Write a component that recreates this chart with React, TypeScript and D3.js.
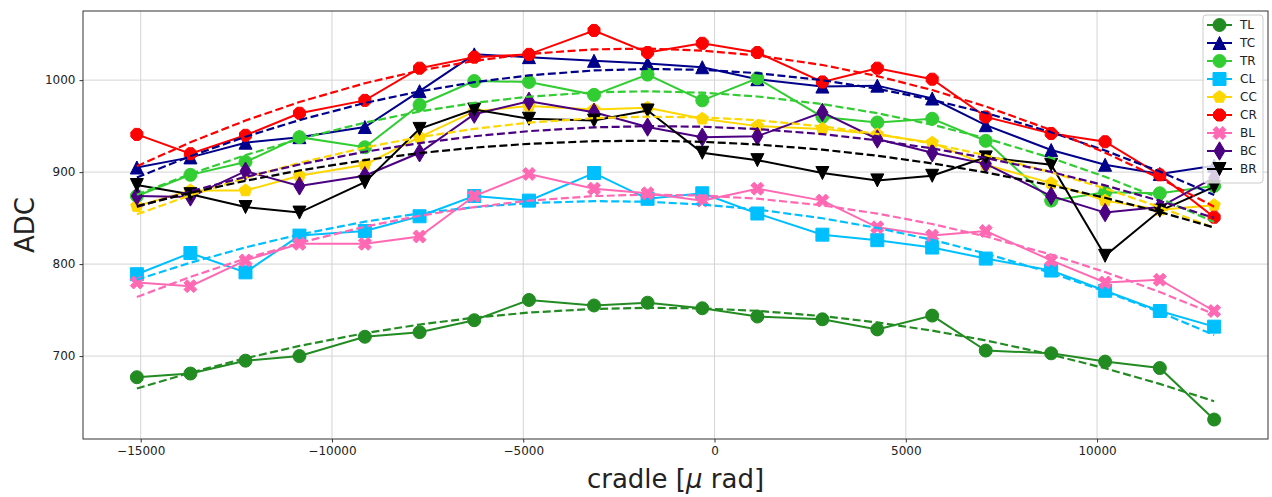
import React, { useRef, useEffect } from "react";
import * as d3 from "d3";

// cradle positions [µrad]
const cradle = [
  -15100, -13700, -12260, -10850, -9140, -7710, -6280, -4850, -3150, -1750,
  -320, 1120, 2820, 4255, 5690, 7090, 8800, 10210, 11640, 13060,
];

// ADC per position
const TL = [677, 681, 695, 700, 721, 726, 739, 761, 755, 758, 752, 743, 740, 729, 744, 706, 703, 694, 687, 631];
const TC = [905, 916, 932, 938, 949, 988, 1028, 1025, 1021, 1018, 1014, 1001, 993, 994, 980, 951, 924, 908, 898, 907];
const TR = [874, 897, 911, 938, 927, 973, 999, 998, 984, 1006, 978, 1002, 960, 954, 958, 934, 869, 878, 877, 885];
const CL = [789, 812, 791, 831, 836, 852, 874, 869, 899, 871, 877, 855, 832, 826, 818, 806, 793, 771, 749, 732];
const CC = [863, 880, 880, 896, 908, 938, 966, 972, 968, 970, 958, 950, 947, 941, 932, 908, 888, 869, 859, 864];
const CR = [941, 920, 940, 964, 978, 1013, 1025, 1028, 1054, 1030, 1040, 1030, 998, 1013, 1001, 960, 942, 933, 897, 851];
const BL = [780, 776, 804, 822, 822, 830, 874, 898, 882, 877, 869, 882, 869, 840, 831, 836, 804, 780, 783, 749];
const BC = [874, 873, 901, 885, 896, 921, 963, 977, 965, 949, 938, 939, 965, 936, 921, 909, 874, 856, 862, 894];
const BR = [886, 876, 862, 856, 889, 947, 968, 958, 956, 967, 921, 913, 899, 891, 896, 916, 908, 809, 858, 884];

const seriesNames = ["TL", "TC", "TR", "CL", "CC", "CR", "BL", "BC", "BR"];
const seriesValues = [TL, TC, TR, CL, CC, CR, BL, BC, BR];
const seriesColors = ["#228b22", "#00008b", "#32cd32", "#00bfff", "#ffd700", "#ff0000", "#ff69b4", "#4b0082", "#000000"];
const seriesMarkers = ["o", "^", "o", "s", "p", "8", "X", "d", "v"];

const xTicks = [-15000, -10000, -5000, 0, 5000, 10000];
const yTicks = [700, 800, 900, 1000];

const width = 1272;
const height = 497;
const margin = { top: 11, right: 4, bottom: 58, left: 83 };
const ms = 13;
const font = "'DejaVu Sans', sans-serif";

// matplotlib-like marker outlines, unit size
function poly(pts: number[][], s: number) {
  return "M" + pts.map((p) => `${p[0] * s},${p[1] * s}`).join("L") + "Z";
}
function regular(n: number, rot: number) {
  return d3.range(n).map((i) => {
    const a = rot + (i * 2 * Math.PI) / n;
    return [0.5 * Math.sin(a), -0.5 * Math.cos(a)];
  });
}
function markerPath(m: string, s: number) {
  switch (m) {
    case "o": {
      const p = d3.path();
      p.arc(0, 0, s / 2, 0, 2 * Math.PI);
      p.closePath();
      return p.toString();
    }
    case "^":
      return poly([[0, -0.5], [-0.5, 0.5], [0.5, 0.5]], s);
    case "v":
      return poly([[0, 0.5], [-0.5, -0.5], [0.5, -0.5]], s);
    case "s":
      return poly([[-0.5, -0.5], [0.5, -0.5], [0.5, 0.5], [-0.5, 0.5]], s);
    case "p":
      return poly(regular(5, 0), s);
    case "8":
      return poly(regular(8, Math.PI / 8), s);
    case "X":
      return poly(
        [[-0.25, -0.5], [0, -0.25], [0.25, -0.5], [0.5, -0.25], [0.25, 0], [0.5, 0.25],
         [0.25, 0.5], [0, 0.25], [-0.25, 0.5], [-0.5, 0.25], [-0.25, 0], [-0.5, -0.25]],
        s
      );
    case "d":
      return poly([[0, -0.707], [0.424, 0], [0, 0.707], [-0.424, 0]], s);
    default:
      return "";
  }
}

// least squares 2nd order polynomial
function quadFit(xs: number[], ys: number[]) {
  const xm = d3.mean(xs) as number;
  const sc = 10000;
  const s = [0, 0, 0, 0, 0];
  const t = [0, 0, 0];
  xs.forEach((x, i) => {
    const u = (x - xm) / sc;
    let p = 1;
    for (let k = 0; k < 5; k++) {
      s[k] += p;
      if (k < 3) t[k] += p * ys[i];
      p *= u;
    }
  });
  const A = [
    [s[0], s[1], s[2]],
    [s[1], s[2], s[3]],
    [s[2], s[3], s[4]],
  ];
  const det = (M: number[][]) =>
    M[0][0] * (M[1][1] * M[2][2] - M[1][2] * M[2][1]) -
    M[0][1] * (M[1][0] * M[2][2] - M[1][2] * M[2][0]) +
    M[0][2] * (M[1][0] * M[2][1] - M[1][1] * M[2][0]);
  const D = det(A);
  const coef = [0, 1, 2].map((c) => det(A.map((row, r) => row.map((v, j) => (j === c ? t[r] : v)))) / D);
  return (x: number) => {
    const u = (x - xm) / sc;
    return coef[0] + coef[1] * u + coef[2] * u * u;
  };
}

function App() {
  const svgRef = useRef<SVGSVGElement>(null);

  useEffect(() => {
    const svg = d3.select(svgRef.current);
    svg.selectAll("*").remove();

    const x0 = margin.left;
    const x1 = width - margin.right;
    const y0 = margin.top;
    const y1 = height - margin.bottom;

    // autoscale with 5% margins, like matplotlib
    const [xa, xb] = d3.extent(cradle) as [number, number];
    const all = seriesValues.flat();
    const [ya, yb] = d3.extent(all) as [number, number];
    const xs = d3.scaleLinear().domain([xa - 0.05 * (xb - xa), xb + 0.05 * (xb - xa)]).range([x0, x1]);
    const ys = d3.scaleLinear().domain([ya - 0.05 * (yb - ya), yb + 0.05 * (yb - ya)]).range([y1, y0]);

    const fmt = d3.format("d");

    // grid
    const grid = svg.append("g").attr("stroke", "#d4d4d4").attr("stroke-width", 1);
    xTicks.forEach((t) => {
      grid.append("line").attr("x1", xs(t)).attr("x2", xs(t)).attr("y1", y0).attr("y2", y1);
    });
    yTicks.forEach((t) => {
      grid.append("line").attr("x1", x0).attr("x2", x1).attr("y1", ys(t)).attr("y2", ys(t));
    });

    // axes
    const xAxis = svg
      .append("g")
      .attr("transform", `translate(0,${y1})`)
      .call(d3.axisBottom(xs).tickValues(xTicks).tickFormat((d) => fmt(d as number)).tickSize(3.5).tickPadding(4));
    const yAxis = svg
      .append("g")
      .attr("transform", `translate(${x0},0)`)
      .call(d3.axisLeft(ys).tickValues(yTicks).tickFormat((d) => fmt(d as number)).tickSize(3.5).tickPadding(4));
    [xAxis, yAxis].forEach((g) => {
      g.select(".domain").remove();
      g.selectAll(".tick line").attr("stroke", "#333");
      g.selectAll(".tick text").attr("font-family", font).attr("font-size", 12).attr("fill", "#222");
    });

    // data lines + markers
    const line = d3
      .line<number>()
      .x((_, i) => xs(cradle[i]))
      .y((d) => ys(d));

    seriesValues.forEach((vals, si) => {
      const color = seriesColors[si];
      svg
        .append("path")
        .datum(vals)
        .attr("d", line)
        .attr("fill", "none")
        .attr("stroke", color)
        .attr("stroke-width", 2);
      svg
        .append("g")
        .selectAll("path")
        .data(vals)
        .enter()
        .append("path")
        .attr("transform", (d, i) => `translate(${xs(cradle[i])},${ys(d)})`)
        .attr("d", markerPath(seriesMarkers[si], ms))
        .attr("fill", color)
        .attr("stroke", color)
        .attr("stroke-width", 1);
    });

    // quadratic fits
    seriesValues.forEach((vals, si) => {
      const f = quadFit(cradle, vals);
      svg
        .append("path")
        .datum(cradle.map(f))
        .attr("d", line)
        .attr("fill", "none")
        .attr("stroke", seriesColors[si])
        .attr("stroke-width", 2.2)
        .attr("stroke-dasharray", "8,3.5");
    });

    // frame
    svg
      .append("rect")
      .attr("x", x0)
      .attr("y", y0)
      .attr("width", x1 - x0)
      .attr("height", y1 - y0)
      .attr("fill", "none")
      .attr("stroke", "#333")
      .attr("stroke-width", 1);

    // legend
    const lx = 1203;
    const ly = 15;
    const rowH = 18;
    const lg = svg.append("g");
    lg.append("rect")
      .attr("x", lx)
      .attr("y", ly)
      .attr("width", x1 - 5 - lx)
      .attr("height", rowH * seriesNames.length + 6)
      .attr("rx", 3)
      .attr("fill", "white")
      .attr("fill-opacity", 0.8)
      .attr("stroke", "#cccccc");
    seriesNames.forEach((name, i) => {
      const cy = ly + 10 + i * rowH;
      const color = seriesColors[i];
      lg.append("line")
        .attr("x1", lx + 4)
        .attr("x2", lx + 29)
        .attr("y1", cy)
        .attr("y2", cy)
        .attr("stroke", color)
        .attr("stroke-width", 2);
      lg.append("path")
        .attr("transform", `translate(${lx + 16.5},${cy})`)
        .attr("d", markerPath(seriesMarkers[i], ms))
        .attr("fill", color)
        .attr("stroke", color)
        .attr("stroke-width", 1);
      lg.append("text")
        .attr("x", lx + 37)
        .attr("y", cy)
        .attr("dy", "0.36em")
        .attr("font-family", font)
        .attr("font-size", 12)
        .attr("fill", "#222")
        .text(name);
    });

    // axis labels
    svg
      .append("text")
      .attr("transform", `translate(34,${(y0 + y1) / 2}) rotate(-90)`)
      .attr("text-anchor", "middle")
      .attr("font-family", font)
      .attr("font-size", 26)
      .attr("fill", "#222")
      .text("ADC");

    const xl = svg
      .append("text")
      .attr("x", (x0 + x1) / 2)
      .attr("y", 488)
      .attr("text-anchor", "middle")
      .attr("font-family", font)
      .attr("font-size", 26)
      .attr("fill", "#222");
    xl.append("tspan").text("cradle [");
    xl.append("tspan").attr("font-style", "italic").text("μ");
    xl.append("tspan").text(" rad]");
  }, []);

  return (
    <svg
      ref={svgRef}
      width={width}
      height={height}
      style={{ position: "absolute", left: 0, top: 0, background: "white" }}
    />
  );
}

export default App;
